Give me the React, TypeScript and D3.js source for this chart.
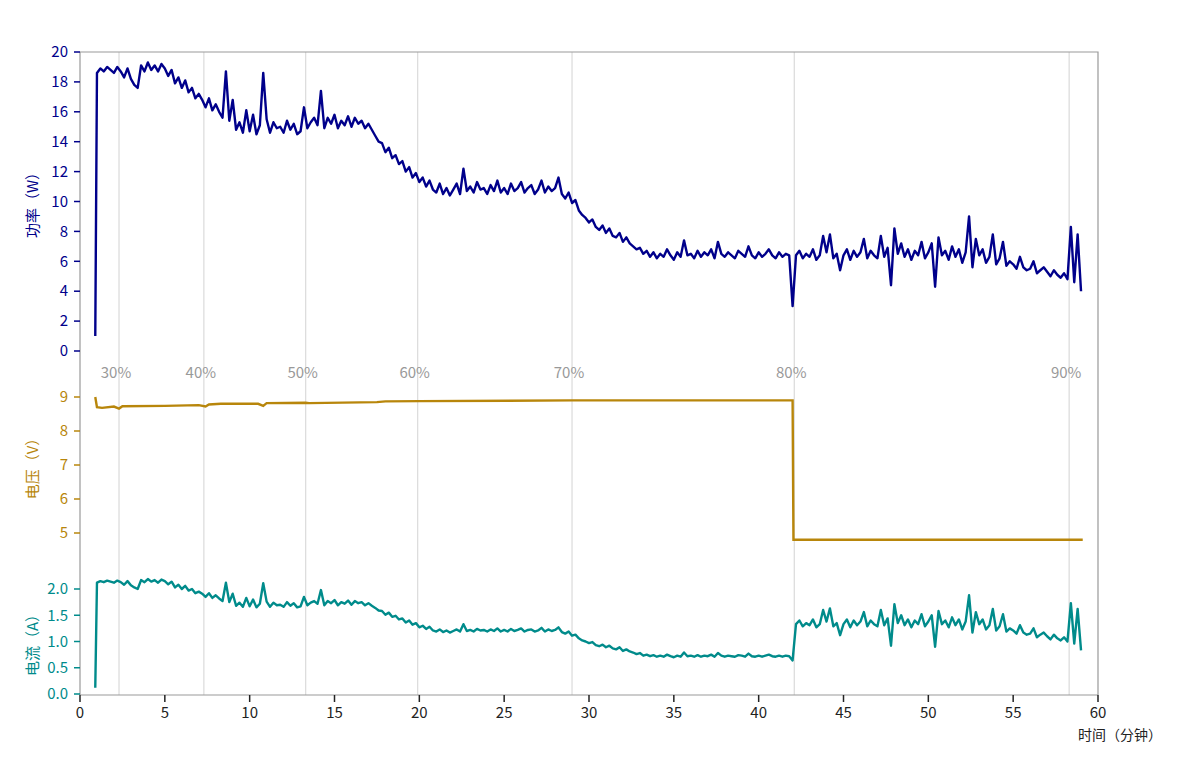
import React from 'react';
import * as d3 from 'd3';

// minute markers with battery percentage
const pctTimes = [2.3, 7.3, 13.3, 19.9, 29.0, 42.1, 58.3];
const pctLabels = ['30%', '40%', '50%', '60%', '70%', '80%', '90%'];

const xTicks = [0, 5, 10, 15, 20, 25, 30, 35, 40, 45, 50, 55, 60];
const powerTicks = [0, 2, 4, 6, 8, 10, 12, 14, 16, 18, 20];
const voltTicks = [5, 6, 7, 8, 9];
const currTicks = [0, 0.5, 1.0, 1.5, 2.0];

// samples every 0.2 min from 1.0 to 59.0, preceded by the start sample at 0.9
const startTime = 0.9;
const powerStart = 1.0;
const currentStart = 0.12;

const power = [
  18.6,18.9,18.7,19.0,18.8, 18.6,19.0,18.7,18.3,18.9, 18.2,17.8,17.6,19.1,18.7, 19.3,18.8,19.1,18.7,19.2,
  18.9,18.4,18.8,17.9,18.3, 17.6,18.1,17.3,17.6,16.9, 17.2,16.8,16.3,16.9,16.1, 16.5,16.0,15.6,18.7,15.4,
  16.8,14.8,15.3,14.6,16.1, 14.7,15.8,14.5,15.1,18.6, 15.5,14.6,15.3,14.9,15.0, 14.6,15.4,14.8,15.2,14.5,
  14.7,16.3,14.9,15.3,15.6, 15.1,17.4,14.9,15.6,15.2, 15.8,14.9,15.4,15.1,15.7, 15.0,15.6,15.2,15.4,14.9,
  15.2,14.8,14.4,14.0,13.9, 13.3,13.6,12.9,13.1,12.5, 12.7,12.0,12.3,11.6,11.9, 11.3,11.6,11.0,11.4,10.8,
  10.6,11.2,10.5,10.9,10.4, 10.8,11.2,10.5,12.2,10.7, 11.0,10.6,11.3,10.8,10.9, 10.5,11.1,10.7,11.4,10.6,
  10.9,10.5,11.2,10.7,10.9, 11.3,10.6,10.9,11.1,10.5, 10.8,11.4,10.6,11.0,10.7, 10.9,11.6,10.5,10.2,10.6,
  9.9,10.1,9.4,9.1,8.9, 8.6,8.8,8.3,8.1,8.4, 7.9,8.2,7.7,7.6,7.9, 7.3,7.6,7.2,7.0,6.8,
  6.9,6.5,6.7,6.3,6.6, 6.2,6.5,6.3,6.8,6.4, 6.1,6.6,6.3,7.4,6.4, 6.5,6.2,6.7,6.3,6.6,
  6.4,6.8,6.2,7.3,6.5, 6.3,6.6,6.4,6.2,6.7, 6.5,6.3,7.0,6.4,6.2, 6.6,6.3,6.5,6.8,6.4,
  6.2,6.6,6.3,6.5,6.4, 3.0,6.4,6.7,6.2,6.5, 6.3,6.8,6.1,6.4,7.7, 6.6,7.8,6.2,6.5,5.4,
  6.4,6.8,6.1,6.7,6.3, 6.6,7.5,6.2,6.7,6.4, 6.2,7.7,6.3,6.9,4.4, 8.2,6.5,7.2,6.3,6.8,
  6.1,6.7,6.4,7.3,6.2, 6.6,7.2,4.3,7.6,6.4, 6.7,6.1,7.0,6.3,6.8, 5.9,6.6,9.0,5.6,7.5,
  6.4,6.8,5.9,6.3,7.8, 5.8,6.2,7.3,5.7,6.0, 5.8,5.5,6.3,5.6,5.4, 5.5,6.0,5.2,5.4,5.6,
  5.3,5.0,5.4,5.1,4.9, 5.2,4.8,8.3,4.6,7.8, 4.0,
];

const current = [
  2.12,2.15,2.13,2.16,2.14, 2.12,2.16,2.13,2.08,2.15, 2.07,2.03,2.00,2.17,2.13, 2.19,2.14,2.17,2.12,2.18,
  2.15,2.09,2.14,2.03,2.08, 2.00,2.06,1.97,2.00,1.92, 1.95,1.91,1.85,1.92,1.83, 1.88,1.82,1.77,2.12,1.75,
  1.91,1.68,1.74,1.66,1.83, 1.67,1.80,1.65,1.72,2.11, 1.76,1.66,1.74,1.69,1.70, 1.66,1.75,1.68,1.73,1.65,
  1.67,1.85,1.69,1.74,1.77, 1.72,1.98,1.69,1.77,1.73, 1.79,1.69,1.75,1.72,1.78, 1.70,1.77,1.73,1.75,1.69,
  1.73,1.68,1.64,1.59,1.58, 1.51,1.55,1.47,1.49,1.42, 1.44,1.36,1.40,1.32,1.35, 1.27,1.30,1.24,1.28,1.21,
  1.19,1.23,1.18,1.21,1.17, 1.20,1.23,1.19,1.33,1.20, 1.22,1.19,1.24,1.21,1.22, 1.19,1.23,1.20,1.25,1.19,
  1.22,1.19,1.24,1.20,1.22, 1.25,1.19,1.22,1.23,1.19, 1.21,1.26,1.19,1.23,1.20, 1.22,1.27,1.18,1.15,1.19,
  1.11,1.13,1.06,1.02,1.00, 0.97,0.99,0.93,0.91,0.94, 0.89,0.92,0.87,0.85,0.89, 0.82,0.85,0.81,0.79,0.76,
  0.78,0.73,0.75,0.72,0.74, 0.71,0.73,0.71,0.75,0.72, 0.70,0.73,0.71,0.79,0.72, 0.73,0.71,0.74,0.71,0.73,
  0.72,0.75,0.71,0.78,0.73, 0.71,0.73,0.72,0.71,0.74, 0.73,0.71,0.77,0.72,0.71, 0.73,0.71,0.73,0.75,0.72,
  0.71,0.73,0.71,0.73,0.72, 0.64,1.33,1.40,1.29,1.35, 1.31,1.42,1.27,1.33,1.60, 1.38,1.63,1.29,1.35,1.12,
  1.33,1.42,1.27,1.40,1.31, 1.38,1.56,1.29,1.40,1.33, 1.29,1.60,1.31,1.44,0.92, 1.71,1.35,1.50,1.31,1.42,
  1.27,1.40,1.33,1.52,1.29, 1.38,1.50,0.90,1.58,1.33, 1.40,1.27,1.46,1.31,1.42, 1.23,1.38,1.88,1.17,1.56,
  1.33,1.42,1.23,1.31,1.62, 1.21,1.29,1.52,1.19,1.25, 1.21,1.15,1.31,1.17,1.13, 1.15,1.25,1.08,1.13,1.17,
  1.10,1.04,1.13,1.06,1.02, 1.08,1.00,1.73,0.96,1.62, 0.83,
];

const voltTimes = [0.9, 1.0, 1.3, 2.0, 2.3, 2.5, 5, 7, 7.4, 7.6, 8.3, 10.5, 10.8, 11.0, 13.3, 13.5, 17.5, 18, 20, 29, 42.0, 42.05, 59.1];
const voltValues = [9.0, 8.7, 8.68, 8.72, 8.66, 8.73, 8.74, 8.76, 8.72, 8.78, 8.8, 8.8, 8.74, 8.82, 8.83, 8.82, 8.85, 8.87, 8.88, 8.9, 8.9, 4.8, 4.8];

const C_POWER = '#00008B';
const C_VOLT = '#B8860B';
const C_CURR = '#008B8B';
const FONT = '"Noto Sans CJK SC", "Noto Sans", sans-serif';

export default function App() {
  const W = 1192, H = 762;
  const left = 80, right = 1098, top = 52, bottom = 695;

  const x = d3.scaleLinear().domain([0, 60]).range([left, right]);
  const yP = d3.scaleLinear().domain([0, 20]).range([351, 52]);
  const yV = d3.scaleLinear().domain([5, 9]).range([533, 397]);
  const yC = d3.scaleLinear().domain([0, 2]).range([694, 589]);

  const times = [startTime, ...power.map((_, i) => 1.0 + i * 0.2)];
  const pPts: [number, number][] = times.map((t, i) => [t, i === 0 ? powerStart : power[i - 1]]);
  const cPts: [number, number][] = times.map((t, i) => [t, i === 0 ? currentStart : current[i - 1]]);
  const vPts: [number, number][] = voltTimes.map((t, i) => [t, voltValues[i]]);

  const lineP = d3.line<[number, number]>().x(d => x(d[0])).y(d => yP(d[1]));
  const lineV = d3.line<[number, number]>().x(d => x(d[0])).y(d => yV(d[1]));
  const lineC = d3.line<[number, number]>().x(d => x(d[0])).y(d => yC(d[1]));

  const yAxis = (scale: d3.ScaleLinear<number, number>, ticks: number[], color: string, fmt: (v: number) => string) =>
    ticks.map(t => (
      <g key={t} transform={`translate(${left},${scale(t)})`}>
        <line x1={-6} x2={0} stroke={color} strokeWidth={1.5} />
        <text x={-12} dy="0.35em" textAnchor="end" fill={color} fontSize={15}>{fmt(t)}</text>
      </g>
    ));

  return (
    <svg width={W} height={H} style={{ position: 'absolute', left: 0, top: 0, background: '#fff' }} fontFamily={FONT}>
      {pctTimes.map((t, i) => (
        <g key={t}>
          <line x1={x(t)} x2={x(t)} y1={top} y2={bottom} stroke="#ddd" strokeWidth={1.3} />
          <text x={x(t) - 3} y={378} textAnchor="middle" fill="#999" fontSize={15}>{pctLabels[i]}</text>
        </g>
      ))}
      <path d={`M${left},${top}H${right}V${bottom}`} fill="none" stroke="#999" strokeWidth={1.2} />
      <line x1={left} x2={left} y1={top} y2={bottom} stroke="#999" strokeWidth={1.2} />
      <line x1={left} x2={right} y1={bottom} y2={bottom} stroke="#999" strokeWidth={1.2} />

      <path d={lineP(pPts) || ''} fill="none" stroke={C_POWER} strokeWidth={2.4} strokeLinejoin="round" />
      <path d={lineV(vPts) || ''} fill="none" stroke={C_VOLT} strokeWidth={2.4} />
      <path d={lineC(cPts) || ''} fill="none" stroke={C_CURR} strokeWidth={2.4} strokeLinejoin="round" />

      {yAxis(yP, powerTicks, C_POWER, v => String(v))}
      {yAxis(yV, voltTicks, C_VOLT, v => String(v))}
      {yAxis(yC, currTicks, C_CURR, v => v.toFixed(1))}

      {xTicks.map(t => (
        <g key={t} transform={`translate(${x(t)},${bottom})`}>
          <line y1={0} y2={7} stroke="#222" strokeWidth={1.5} />
          <text y={23} textAnchor="middle" fill="#222" fontSize={15}>{t}</text>
        </g>
      ))}
      <text x={1120} y={740} textAnchor="middle" fill="#222" fontSize={14}>时间（分钟）</text>

      <text transform={`translate(38,${yP(10)}) rotate(-90)`} textAnchor="middle" fill={C_POWER} fontSize={15}>功率（W）</text>
      <text transform={`translate(38,${yV(7)}) rotate(-90)`} textAnchor="middle" fill={C_VOLT} fontSize={15}>电压（V）</text>
      <text transform={`translate(38,${yC(1)}) rotate(-90)`} textAnchor="middle" fill={C_CURR} fontSize={15}>电流（A）</text>
    </svg>
  );
}
